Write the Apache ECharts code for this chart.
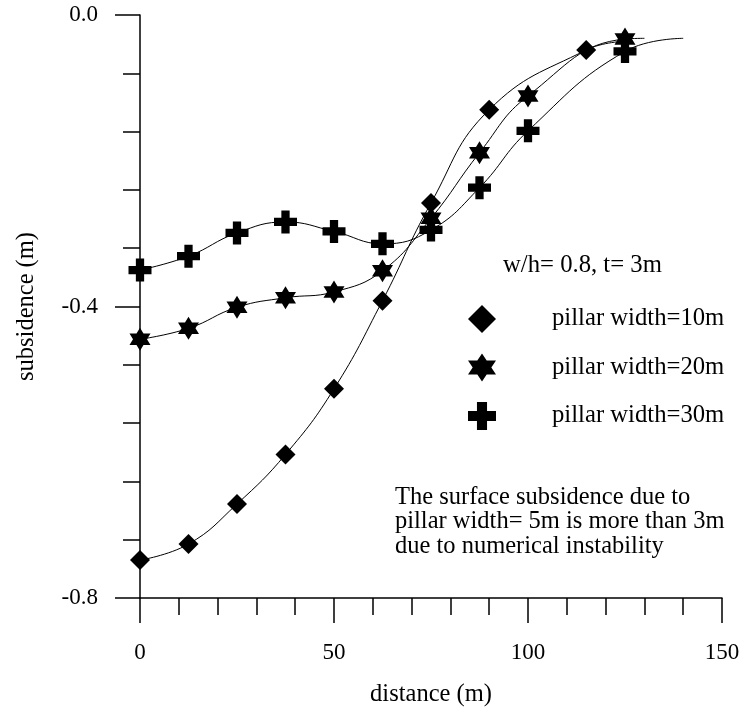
<!DOCTYPE html>
<html>
<head>
<meta charset="utf-8">
<script src="https://cdn.jsdelivr.net/npm/echarts@6/dist/echarts.min.js"></script>
<style>
  html, body { margin: 0; padding: 0; background: #fff; }
  #chart { width: 744px; height: 712px; }
</style>
</head>
<body>
<div id="chart"></div>
<script>
// Surface subsidence profiles for three pillar widths
const distance10 = [0, 12.5, 25, 37.5, 50, 62.5, 75, 90, 115];
const subs10 = [-0.748, -0.726, -0.671, -0.603, -0.513, -0.392, -0.258, -0.130, -0.048];
const distance20 = [0, 12.5, 25, 37.5, 50, 62.5, 75, 87.5, 100, 125];
const subs20 = [-0.445, -0.430, -0.401, -0.388, -0.380, -0.351, -0.279, -0.189, -0.111, -0.033];
const distance30 = [0, 12.5, 25, 37.5, 50, 62.5, 75, 87.5, 100, 125];
const subs30 = [-0.350, -0.331, -0.299, -0.284, -0.297, -0.314, -0.295, -0.237, -0.159, -0.050];
// end points of the fitted curves (no marker drawn there)
const curveEnd10 = [125, -0.036];
const curveEnd20 = [130, -0.032];
const curveEnd30 = [140, -0.032];

const seriesNames = ['pillar width=10m', 'pillar width=20m', 'pillar width=30m'];
const noteTitle = 'w/h= 0.8, t= 3m';
const noteLines = ['The surface subsidence due to', 'pillar width= 5m is more than 3m', 'due to numerical instability'];

const FONT = '"Liberation Serif", "Times New Roman", serif';
const DIAMOND = 'diamond';
const HEXAGRAM = 'path://M0,-1000 L289,-500 L866,-500 L577,0 L866,500 L289,500 L0,1000 L-289,500 L-866,500 L-577,0 L-866,-500 L-289,-500 Z';
const CROSS = 'path://M32,0 H68 V32 H100 V68 H68 V100 H32 V68 H0 V32 H32 Z';

function buildData(xs, ys, tail) {
  const pts = xs.map((x, i) => [x, ys[i]]);
  pts.push({ value: tail, symbol: 'none' });
  return pts;
}

function lineSeries(name, xs, ys, tail, symbol, size) {
  return {
    name: name,
    type: 'line',
    smooth: 0.45,
    data: buildData(xs, ys, tail),
    symbol: symbol,
    symbolSize: size,
    symbolKeepAspect: false,
    showAllSymbol: true,
    color: '#000',
    itemStyle: { color: '#000', borderWidth: 0 },
    lineStyle: { color: '#000', width: 1 },
    emphasis: { disabled: true },
    z: 3
  };
}

const chart = echarts.init(document.getElementById('chart'), null, { renderer: 'canvas' });

chart.setOption({
  animation: false,
  backgroundColor: '#fff',
  grid: { left: 140, right: 22, top: 15, bottom: 114, containLabel: false },
  xAxis: {
    type: 'value',
    min: 0, max: 150, interval: 50,
    name: 'distance (m)',
    nameLocation: 'middle',
    nameGap: 84,
    nameTextStyle: { fontFamily: FONT, fontSize: 24.5, color: '#000' },
    axisLine: { onZero: false, lineStyle: { color: '#000', width: 1.5 } },
    axisTick: { show: true, length: 25, lineStyle: { color: '#000', width: 1.5 } },
    minorTick: { show: true, splitNumber: 5, length: 17, lineStyle: { color: '#000', width: 1.5 } },
    axisLabel: { fontFamily: FONT, fontSize: 23, color: '#000', margin: 43 },
    splitLine: { show: false },
    minorSplitLine: { show: false }
  },
  yAxis: {
    type: 'value',
    min: -0.8, max: 0, interval: 0.4,
    name: 'subsidence (m)',
    nameLocation: 'middle',
    nameGap: 101,
    nameTextStyle: { fontFamily: FONT, fontSize: 24.5, color: '#000' },
    axisLine: { show: true, onZero: false, lineStyle: { color: '#000', width: 1.5 } },
    axisTick: { show: true, length: 25, lineStyle: { color: '#000', width: 1.5 } },
    minorTick: { show: true, splitNumber: 5, length: 17, lineStyle: { color: '#000', width: 1.5 } },
    axisLabel: {
      fontFamily: FONT, fontSize: 23, color: '#000', margin: 42,
      formatter: v => v.toFixed(1)
    },
    splitLine: { show: false },
    minorSplitLine: { show: false }
  },
  legend: {
    orient: 'vertical',
    left: 463,
    top: 300,
    itemWidth: 28,
    itemHeight: 28,
    itemGap: 20.5,
    symbolKeepAspect: false,
    selectedMode: false,
    textStyle: { fontFamily: FONT, fontSize: 24.7, color: '#000', padding: [0, 0, 0, 51] },
    data: [
      { name: seriesNames[0], icon: DIAMOND },
      { name: seriesNames[1], icon: HEXAGRAM },
      { name: seriesNames[2], icon: CROSS }
    ]
  },
  graphic: [
    {
      type: 'text', left: 503, top: 253,
      style: { text: noteTitle, font: '24.7px ' + FONT, fill: '#000' }
    },
    {
      type: 'text', left: 395, top: 485,
      style: { text: noteLines.join('\n'), font: '24.5px ' + FONT, lineHeight: 24.5, fill: '#000' }
    }
  ],
  series: [
    lineSeries(seriesNames[0], distance10, subs10, curveEnd10, DIAMOND, 20),
    lineSeries(seriesNames[1], distance20, subs20, curveEnd20, HEXAGRAM, [21, 23]),
    lineSeries(seriesNames[2], distance30, subs30, curveEnd30, CROSS, 23)
  ]
});
</script>
</body>
</html>
